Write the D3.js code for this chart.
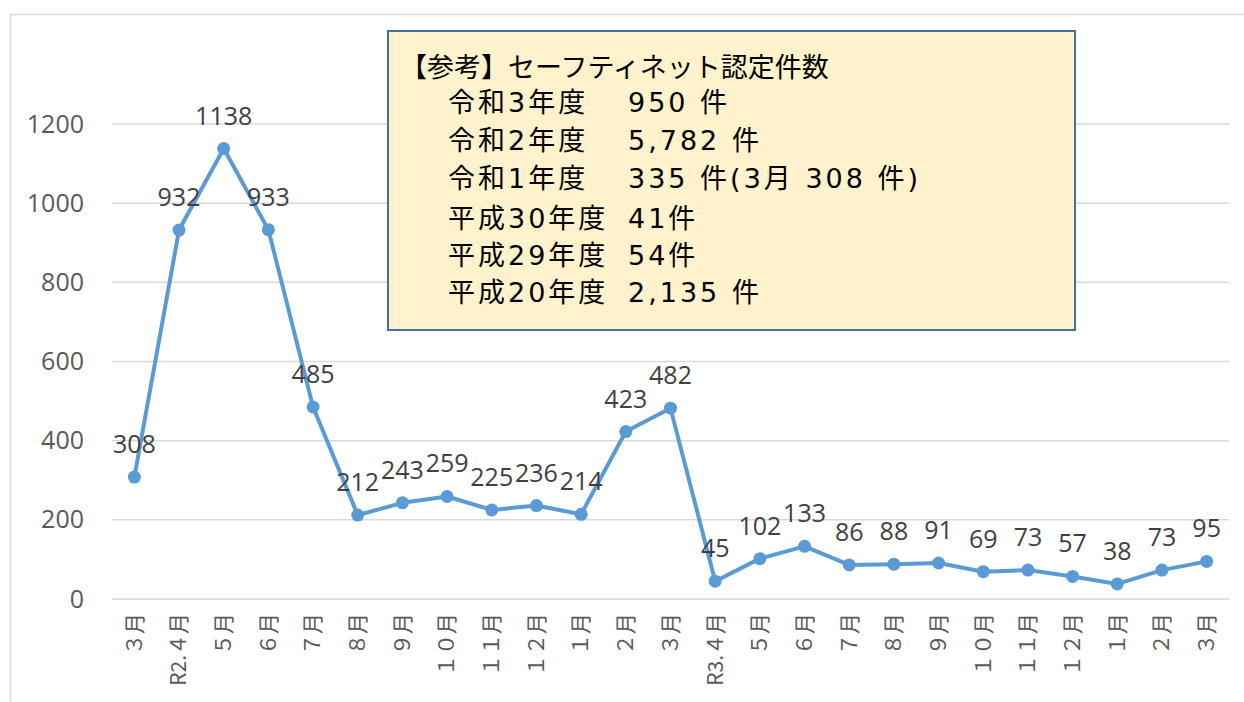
<!DOCTYPE html>
<html>
<head>
<meta charset="utf-8">
<script src="https://cdn.jsdelivr.net/npm/d3@7"></script>
<style>
  html, body { margin: 0; padding: 0; background: #fff; }
  svg { display: block; }
</style>
</head>
<body>
<svg id="chart" width="1244" height="702"></svg>
<script>
// ---- data ----
const categories = ["３月","R2.４月","５月","６月","７月","８月","９月","１０月","１１月","１２月","１月","２月","３月",
                    "R3.４月","５月","６月","７月","８月","９月","１０月","１１月","１２月","１月","２月","３月"];
const values = [308, 932, 1138, 933, 485, 212, 243, 259, 225, 236, 214, 423, 482,
                45, 102, 133, 86, 88, 91, 69, 73, 57, 38, 73, 95];
const yTicks = [0, 200, 400, 600, 800, 1000, 1200];
const noteTitle = "【参考】セーフティネット認定件数";
const noteLabels = ["令和3年度", "令和2年度", "令和1年度", "平成30年度", "平成29年度", "平成20年度"];
const noteValues = ["950 件", "5,782 件", "335 件(3月 308 件)", "41件", "54件", "2,135 件"];

// ---- layout ----
const svg = d3.select("#chart");
const plot = { left: 112, right: 1229, top: 124, bottom: 599 };
const numFont = "'Open Sans', 'Noto Sans', sans-serif";
const jpFont = "'Noto Sans CJK JP', 'Noto Sans', sans-serif";
const noteFont = "'DejaVu Sans', 'Noto Sans CJK JP', sans-serif";

// outer chart frame
svg.append("rect").attr("x", 10.5).attr("y", 14.5).attr("width", 1260).attr("height", 720)
  .attr("fill", "none").attr("stroke", "#d9d9d9").attr("stroke-width", 1.5);

const x = d3.scaleBand().domain(d3.range(categories.length)).range([plot.left, plot.right]);
const y = d3.scaleLinear().domain([0, 1200]).range([plot.bottom, plot.top]);
const cx = i => x(i) + x.bandwidth() / 2;

// gridlines
svg.append("g").selectAll("line").data(yTicks).join("line")
  .attr("x1", plot.left).attr("x2", plot.right)
  .attr("y1", d => y(d)).attr("y2", d => y(d))
  .attr("stroke", "#d9d9d9").attr("stroke-width", 1.5);

// y axis
const yAxis = svg.append("g").attr("transform", `translate(${plot.left},0)`)
  .call(d3.axisLeft(y).tickValues(yTicks).tickFormat(d3.format("d")).tickSize(0).tickPadding(28));
yAxis.select(".domain").remove();
yAxis.selectAll("text").attr("font-family", numFont).attr("font-size", 25).attr("fill", "#595959");

// x axis
const xAxis = svg.append("g").attr("transform", `translate(0,${plot.bottom})`)
  .call(d3.axisBottom(x).tickSize(0).tickFormat(i => categories[i]));
xAxis.select(".domain").remove();
xAxis.selectAll("text")
  .attr("font-family", jpFont).attr("font-size", 21).attr("fill", "#595959")
  .attr("transform", "rotate(-90)")
  .attr("text-anchor", "end")
  .attr("x", -14).attr("y", 0).attr("dy", "0.35em");

// line
const line = d3.line().x((d, i) => cx(i)).y(d => y(d));
svg.append("path").datum(values).attr("d", line)
  .attr("fill", "none").attr("stroke", "#5b9bd5").attr("stroke-width", 4)
  .attr("stroke-linejoin", "round");

svg.append("g").selectAll("circle").data(values).join("circle")
  .attr("cx", (d, i) => cx(i)).attr("cy", d => y(d)).attr("r", 6.5)
  .attr("fill", "#5b9bd5");

// data labels
svg.append("g").selectAll("text").data(values).join("text")
  .attr("x", (d, i) => cx(i)).attr("y", d => y(d) - 24)
  .attr("text-anchor", "middle")
  .attr("font-family", numFont).attr("font-size", 25).attr("fill", "#404040")
  .text(d => d);

// note box
const note = svg.append("g");
note.append("rect").attr("x", 388).attr("y", 31).attr("width", 687).attr("height", 299)
  .attr("fill", "#fff2cc").attr("stroke", "#41719c").attr("stroke-width", 2);
const lineY = [68, 103, 141, 179, 219, 256, 293];
note.append("text").attr("x", 400).attr("y", lineY[0]).attr("dy", "0.35em")
  .attr("font-family", jpFont).attr("font-size", 27).attr("fill", "#000").text(noteTitle);
noteLabels.forEach((lab, i) => {
  note.append("text").attr("x", 448).attr("y", lineY[i + 1]).attr("dy", "0.35em")
    .attr("font-family", noteFont).attr("font-size", 27).attr("letter-spacing", 3)
    .attr("fill", "#000").text(lab);
  note.append("text").attr("x", 628).attr("y", lineY[i + 1]).attr("dy", "0.35em")
    .attr("font-family", noteFont).attr("font-size", 27).attr("letter-spacing", 3)
    .attr("fill", "#000").text(noteValues[i]);
});
</script>
</body>
</html>
